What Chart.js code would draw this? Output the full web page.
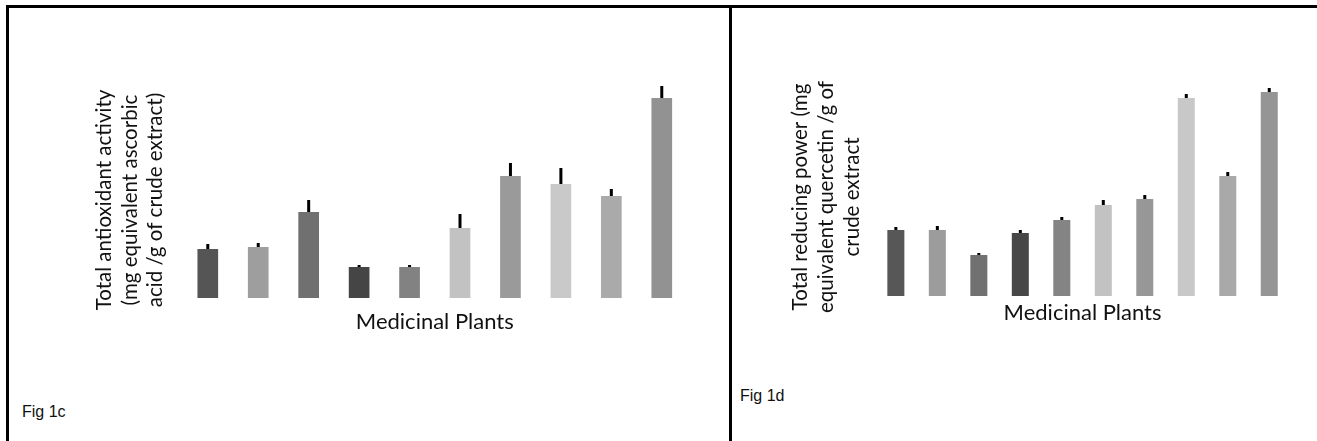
<!DOCTYPE html>
<html>
<head>
<meta charset="utf-8">
<script src="https://cdn.jsdelivr.net/npm/chart.js@4/dist/chart.umd.min.js"></script>
<style>
  body { margin: 0; background: #fff; }
  #page { position: relative; width: 1317px; height: 441px; overflow: hidden; background: #fff; }
  .topline { position: absolute; left: 6px; top: 5px; width: 1311px; height: 3px; background: #000; }
  .vline { position: absolute; top: 5px; width: 3px; height: 436px; background: #000; }
  .fig { position: absolute; font-family: "Liberation Sans", Arial, sans-serif; font-size: 16px; color: #111; }
  canvas { position: absolute; }
</style>
</head>
<body>
<div id="page">
  <div class="topline"></div>
  <div class="vline" style="left:6px"></div>
  <div class="vline" style="left:729px"></div>
  <div class="fig" style="left:22px; top:403px">Fig 1c</div>
  <div class="fig" style="left:740px; top:387px">Fig 1d</div>
  <canvas id="chartC" style="left:80px; top:60px" width="620" height="290"></canvas>
  <canvas id="chartD" style="left:770px; top:50px" width="535" height="290"></canvas>
</div>
<script>
// ten plants, no names shown in the figure
const plants = ['1', '2', '3', '4', '5', '6', '7', '8', '9', '10'];

// Fig 1c - total antioxidant activity
const antioxidant = [24.5, 25.5, 43, 15.5, 15.5, 35, 61, 57, 51, 100];
const antioxidantErr = [2.5, 2, 6, 1, 1, 7, 6.5, 8, 3.5, 6];

// Fig 1d - total reducing power
const reducing = [33, 33, 20.5, 31.5, 38, 45.5, 48.5, 99, 60, 102];
const reducingErr = [1.5, 2, 1, 1.5, 1.5, 2.5, 2, 2, 2, 2];

const barColorsC = ['#555555', '#9e9e9e', '#707070', '#454545', '#828282', '#c2c2c2', '#9a9a9a', '#c9c9c9', '#aaaaaa', '#929292'];
const barColorsD = ['#575757', '#9c9c9c', '#717171', '#474747', '#848484', '#c2c2c2', '#979797', '#c8c8c8', '#a9a9a9', '#959595'];

// upper half error bars, drawn on top of the bars
const errorBars = {
    id: 'errorBars',
    afterDatasetsDraw(chart) {
        const ctx = chart.ctx;
        const yScale = chart.scales.y;
        chart.data.datasets.forEach((ds, i) => {
            const meta = chart.getDatasetMeta(i);
            meta.data.forEach((bar, j) => {
                const top = yScale.getPixelForValue(ds.data[j] + ds.errors[j]);
                ctx.save();
                ctx.strokeStyle = '#000';
                ctx.lineWidth = 3;
                ctx.beginPath();
                ctx.moveTo(bar.x, bar.y);
                ctx.lineTo(bar.x, top);
                ctx.stroke();
                ctx.restore();
            });
        });
    }
};

function makeChart(id, values, errors, colors, opts) {
    return new Chart(document.getElementById(id), {
        type: 'bar',
        data: {
            labels: plants,
            datasets: [{
                data: values,
                errors: errors,
                backgroundColor: colors,
                borderWidth: 0,
                barPercentage: 0.41,
                categoryPercentage: 1,
                clip: false
            }]
        },
        options: {
            responsive: false,
            animation: false,
            layout: { padding: opts.padding },
            plugins: { legend: { display: false }, tooltip: { enabled: false } },
            scales: {
                x: {
                    grid: { display: false, drawTicks: false },
                    border: { display: false },
                    ticks: { display: false },
                    title: {
                        display: true,
                        text: 'Medicinal Plants',
                        color: '#111',
                        font: { family: 'Lato', size: 22 },
                        padding: { top: opts.xTitleGap, bottom: 0 }
                    }
                },
                y: {
                    min: 0,
                    max: opts.max,
                    grid: { display: false, drawTicks: false },
                    border: { display: false },
                    ticks: { display: false },
                    title: {
                        display: true,
                        text: opts.yTitle,
                        color: '#111',
                        font: { family: 'Lato', size: 20.5, lineHeight: opts.lineHeight },
                        padding: opts.yTitlePad
                    }
                }
            }
        },
        plugins: [errorBars]
    });
}

makeChart('chartC', antioxidant, antioxidantErr, barColorsC, {
    max: 98,
    padding: { left: 0, right: 13, top: 42, bottom: 14.6 },
    xTitleGap: 11,
    lineHeight: 1.245,
    yTitlePad: { top: 12, bottom: 14 },
    yTitle: ['Total antioxidant activity', '(mg equivalent ascorbic', 'acid /g of crude extract)']
});

makeChart('chartD', reducing, reducingErr, barColorsD, {
    max: 99,
    padding: { left: 0, right: 15, top: 48, bottom: 13.8 },
    xTitleGap: 3.8,
    lineHeight: 1.27,
    yTitlePad: { top: 17, bottom: 10 },
    yTitle: ['Total reducing power (mg', 'equivalent quercetin /g of', 'crude extract']
});
</script>
</body>
</html>
